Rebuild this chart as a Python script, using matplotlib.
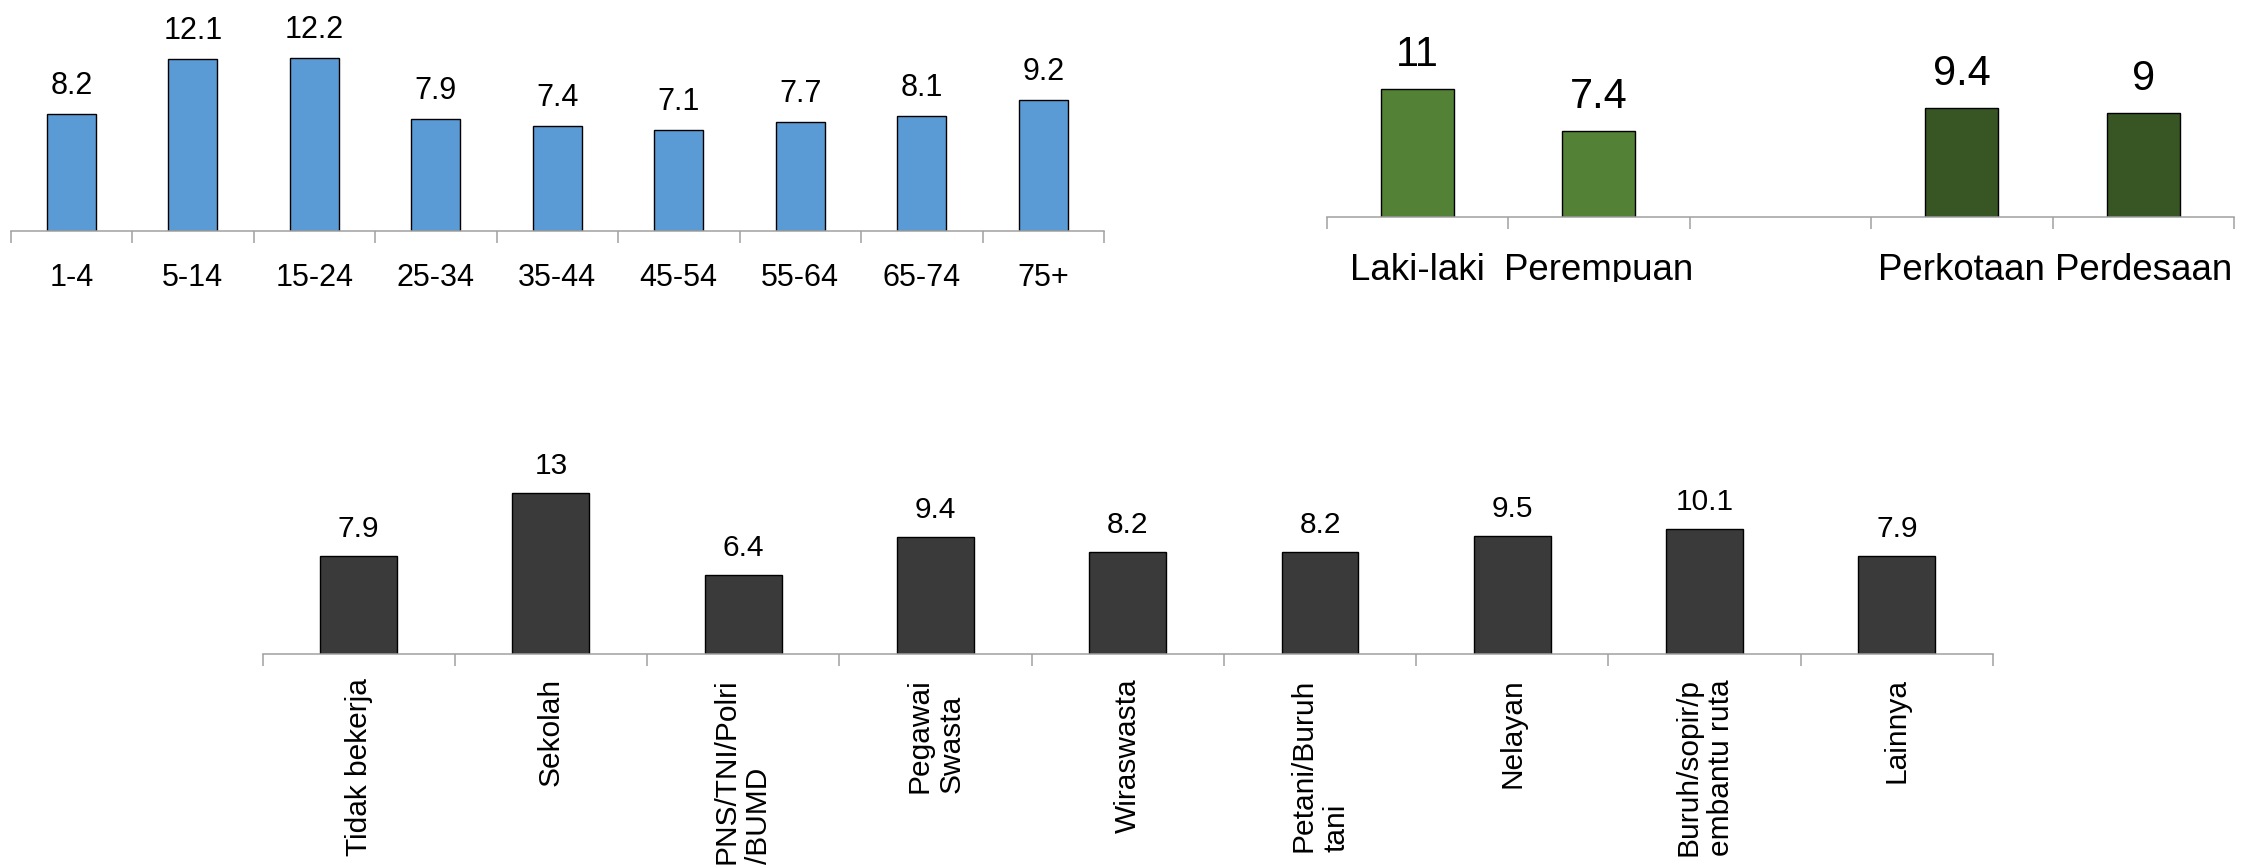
"""Three bar panels: prevalence by age group, by sex / area, and by occupation."""

import matplotlib

matplotlib.use("Agg")
import matplotlib.pyplot as plt
import numpy as np
from matplotlib import font_manager
from matplotlib.transforms import Bbox, TransformedBbox

W, H, DPI = 2244, 866, 100

age_groups = ["1-4", "5-14", "15-24", "25-34", "35-44", "45-54", "55-64", "65-74", "75+"]
age_values = [8.2, 12.1, 12.2, 7.9, 7.4, 7.1, 7.7, 8.1, 9.2]

sex_area_labels = ["Laki-laki", "Perempuan", "", "Perkotaan", "Perdesaan"]
sex_area_values = [11, 7.4, None, 9.4, 9]

job_labels = [
    "Tidak bekerja",
    "Sekolah",
    "PNS/TNI/Polri\n/BUMD",
    "Pegawai\nSwasta",
    "Wiraswasta",
    "Petani/Buruh\ntani",
    "Nelayan",
    "Buruh/sopir/p\nembantu ruta",
    "Lainnya",
]
job_values = [7.9, 13, 6.4, 9.4, 8.2, 8.2, 9.5, 10.1, 7.9]

BLUE = "#5B9BD5"
GREEN = "#538135"
DARK_GREEN = "#375623"
CHARCOAL = "#3A3A3A"
AXIS_GRAY = "#A0A0A0"

REGULAR = ["Liberation Sans", "DejaVu Sans"]
_installed = {f.name for f in font_manager.fontManager.ttflist}
HAS_NARROW = "Liberation Sans Narrow" in _installed
NARROW = ["Liberation Sans Narrow"] + REGULAR if HAS_NARROW else REGULAR
# without a narrow face, shrink the horizontal labels so their widths stay close
SHRINK = 1.0 if HAS_NARROW else 0.88


def place_axes(fig, left, right, top, baseline, px_per_unit):
    # positions given in pixels of the final image
    ax = fig.add_axes([left / W, 1 - baseline / H, (right - left) / W, (baseline - top) / H])
    ax.set_ylim(0, (baseline - top) / px_per_unit)
    return ax


def style_axis(ax, labels, fontsize, pad, family, **label_kw):
    n = len(labels)
    ax.set_xlim(-0.5, n - 0.5)
    for side in ("top", "right", "left"):
        ax.spines[side].set_visible(False)
    ax.spines["bottom"].set_color(AXIS_GRAY)
    ax.spines["bottom"].set_linewidth(1.1)
    ax.set_yticks([])
    ax.set_xticks(range(n), labels, fontsize=fontsize, family=family, **label_kw)
    ax.set_xticks(np.arange(n + 1) - 0.5, minor=True)
    ax.tick_params(axis="x", which="major", length=0, pad=pad)
    ax.tick_params(axis="x", which="minor", length=8.8, width=1.1, color=AXIS_GRAY)
    ax.patch.set_visible(False)


def bars_with_labels(ax, values, colors, fontsize, gap_px):
    for i, v in enumerate(values):
        if v is None:
            continue
        color = colors[i] if isinstance(colors, list) else colors
        ax.bar(i, v, width=0.4, color=color, edgecolor="black", linewidth=1.0, zorder=2)
        ax.annotate(f"{v:g}", (i, v), xytext=(0, gap_px), textcoords="offset pixels",
                    ha="center", va="baseline", fontsize=fontsize, family=NARROW)


def main() -> None:
    fig = plt.figure(figsize=(W / DPI, H / DPI), dpi=DPI)

    # Age groups
    ax1 = place_axes(fig, 10.5, 1104, 0, 230.5, 14.15)
    bars_with_labels(ax1, age_values, BLUE, 25 * SHRINK, 20)
    style_axis(ax1, age_groups, 25 * SHRINK, 23.5, NARROW)

    # Sex and area
    ax2 = place_axes(fig, 1326.5, 2234, 0, 217.5, 11.64)
    sex_colors = [GREEN, GREEN, GREEN, DARK_GREEN, DARK_GREEN]
    bars_with_labels(ax2, sex_area_values, sex_colors, 34 * SHRINK, 23)
    style_axis(ax2, sex_area_labels, 30 * SHRINK, 25.5, NARROW)
    # the original cuts the category labels off at the bottom
    clip = TransformedBbox(Bbox.from_extents(0, 1 - 282 / H, 1, 1), fig.transFigure)
    for lbl in ax2.get_xticklabels():
        lbl.set_clip_box(clip)
        lbl.set_clip_on(True)

    # Occupation
    ax3 = place_axes(fig, 262.5, 1993, 420, 654, 12.4)
    bars_with_labels(ax3, job_values, CHARCOAL, 24.5 * SHRINK, 19)
    style_axis(ax3, job_labels, 21.5, 17.5, REGULAR, rotation=90, multialignment="left")

    fig.savefig("out.png", dpi=DPI)
    plt.close(fig)


if __name__ == "__main__":
    main()
